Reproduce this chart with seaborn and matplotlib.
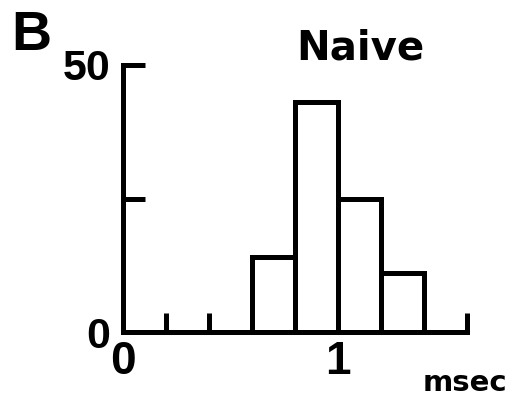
import matplotlib
matplotlib.use("Agg")
import matplotlib.pyplot as plt
import seaborn as sns
import numpy as np

# Data
bin_edges = [0.0, 0.2, 0.4, 0.6, 0.8, 1.0, 1.2, 1.4, 1.6]
bin_centers = [0.1, 0.3, 0.5, 0.7, 0.9, 1.1, 1.3, 1.5]
counts = [0, 0, 0, 14, 43, 25, 11, 0]
x_tick_positions = [0.0, 0.2, 0.4, 0.6, 0.8, 1.0, 1.2, 1.4, 1.6]
x_tick_labels = ["0", "", "", "", "", "1", "", "", ""]
y_tick_positions = [0, 25, 50]
y_tick_labels = ["0", "", "50"]
title_text = "Naive"
panel_letter = "B"
x_label = "msec"

sns.set_theme(style="white")
plt.rcParams["font.family"] = ["Liberation Sans", "DejaVu Sans"]
plt.rcParams["font.weight"] = "bold"
plt.rcParams["text.color"] = "black"
plt.rcParams["axes.labelcolor"] = "black"
plt.rcParams["xtick.color"] = "black"
plt.rcParams["ytick.color"] = "black"

fig = plt.figure(figsize=(5.18, 3.99), dpi=100)
ax = fig.add_axes([123 / 518, (399 - 332) / 399, (467 - 123) / 518, (332 - 65) / 399])

sns.histplot(x=bin_centers, weights=counts, bins=bin_edges, ax=ax,
             color="white", edgecolor="black", linewidth=3.6, alpha=1.0)

ax.set_xlim(0, 1.6)
ax.set_ylim(0, 50)
for s in ["top", "right"]:
    ax.spines[s].set_visible(False)
for s in ["left", "bottom"]:
    ax.spines[s].set_linewidth(3.6)
    ax.spines[s].set_color("black")

ax.set_xticks(x_tick_positions)
ax.set_xticklabels(x_tick_labels, fontsize=33, fontweight="bold", color="black")
ax.set_yticks(y_tick_positions)
ax.set_yticklabels(y_tick_labels, fontsize=31, fontweight="bold", color="black")
ax.tick_params(axis="x", which="major", bottom=True, direction="in", length=14,
               width=3.6, pad=6, colors="black")
ax.tick_params(axis="y", which="major", left=True, direction="in", length=16,
               width=3.6, pad=9, colors="black")
ax.set_ylabel("")

ax.set_xlabel(x_label, fontsize=21, fontweight="bold", family="DejaVu Sans",
              color="black")
ax.xaxis.label.set_va("baseline")
ax.xaxis.set_label_coords(0.994, -0.221)

ax.set_title(title_text, fontsize=29, fontweight="bold", family="DejaVu Sans",
             color="black", x=0.689, y=1.019, pad=0)
fig.text(11 / 518, 1 - 50 / 399, panel_letter, fontsize=40, fontweight="bold",
         color="black", ha="left", va="baseline")

fig.savefig("out.png", dpi=100, facecolor="white")
